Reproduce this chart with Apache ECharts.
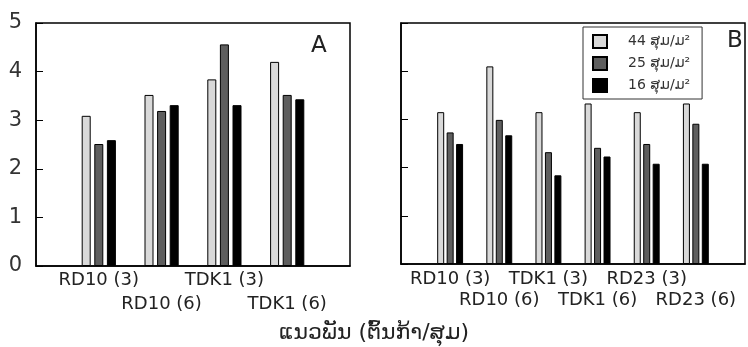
<!DOCTYPE html>
<html>
<head>
<meta charset="utf-8">
<script src="https://cdn.jsdelivr.net/npm/echarts@6/dist/echarts.min.js"></script>
<style>
  html, body { margin: 0; padding: 0; background: #fff; }
  #chart { width: 748px; height: 347px; }
</style>
</head>
<body>
<div id="chart"></div>
<script>
// panel A: 4 varieties
const varietiesA = ['RD10 (3)', 'RD10 (6)', 'TDK1 (3)', 'TDK1 (6)']
const a44 = [3.09, 3.52, 3.84, 4.20]
const a25 = [2.51, 3.19, 4.56, 3.52]
const a16 = [2.59, 3.31, 3.31, 3.43]

// panel B: 6 varieties
const varietiesB = ['RD10 (3)', 'RD10 (6)', 'TDK1 (3)', 'TDK1 (6)', 'RD23 (3)', 'RD23 (6)']
const b44 = [3.15, 4.10, 3.15, 3.33, 3.15, 3.33]
const b25 = [2.73, 2.99, 2.32, 2.41, 2.49, 2.91]
const b16 = [2.49, 2.67, 1.84, 2.23, 2.08, 2.08]

const seriesNames = ['44 ສຸມ/ມ²', '25 ສຸມ/ມ²', '16 ສຸມ/ມ²']
const yTicks = [0, 1, 2, 3, 4, 5]

const colors = ['#d9d9d9', '#5e5e5e', '#000000']
const font = 'DejaVu Sans'

// empty slot at each end so the groups sit on the inner ticks
const pad = arr => [null, ...arr, null]
const padCat = arr => ['', ...arr, '']

const chart = echarts.init(document.getElementById('chart'))

const makeX = (cats, gridIndex, lineHeight, margin) => ({
  type: 'category',
  gridIndex,
  data: padCat(cats),
  boundaryGap: false,
  axisLine: { lineStyle: { color: '#000', width: 1.5 } },
  axisTick: { show: false },
  axisLabel: {
    interval: 0,
    margin,
    fontFamily: font,
    fontSize: 18,
    color: '#222',
    lineHeight,
    formatter: (v, i) => (i % 2 === 0 ? '\n' + v : v)
  }
})

const makeY = (gridIndex, showLabels) => ({
  type: 'value',
  gridIndex,
  min: yTicks[0],
  max: yTicks[yTicks.length - 1],
  interval: 1,
  splitLine: { show: false },
  axisLine: { show: true, lineStyle: { color: '#000', width: 1.5 } },
  axisTick: { show: true, inside: true, length: 7, lineStyle: { color: '#000' } },
  axisLabel: {
    show: showLabels,
    margin: 14,
    fontFamily: font,
    fontSize: 21,
    color: '#333'
  }
})

const makeBars = (data, gridIndex, barWidth, barGap) =>
  data.map((d, k) => ({
    name: seriesNames[k],
    type: 'bar',
    xAxisIndex: gridIndex,
    yAxisIndex: gridIndex,
    data: pad(d),
    barWidth,
    barGap,
    itemStyle: { color: colors[k], borderColor: '#000', borderWidth: 1 }
  }))

const option = {
  animation: false,
  title: [
    { text: 'A', left: 306, top: 30, textStyle: { fontFamily: font, fontSize: 23, fontWeight: 'normal', color: '#222' } },
    { text: 'B', left: 722, top: 25, textStyle: { fontFamily: font, fontSize: 23, fontWeight: 'normal', color: '#222' } },
    { text: 'ແນວພັນ (ຕົ້ນກ້າ/ສຸມ)', left: 'center', top: 317, textStyle: { fontFamily: font, fontSize: 22, fontWeight: 'normal', color: '#222' } }
  ],
  legend: {
    data: seriesNames,
    orient: 'vertical',
    left: 583,
    top: 27,
    icon: 'rect',
    itemWidth: 14,
    itemHeight: 13,
    itemGap: 7,
    padding: [7, 12, 6, 9],
    borderColor: '#333',
    borderWidth: 1,
    backgroundColor: '#fff',
    selectedMode: false,
    textStyle: { fontFamily: font, fontSize: 14, color: '#333', padding: [0, 0, 0, 16] }
  },
  grid: [
    { left: 36, top: 23, width: 314, height: 243, show: true, borderColor: '#000', borderWidth: 1.5 },
    { left: 401, top: 23, width: 345, height: 241, show: true, borderColor: '#000', borderWidth: 1.5 }
  ],
  xAxis: [makeX(varietiesA, 0, 24, 2), makeX(varietiesB, 1, 21, 5)],
  yAxis: [makeY(0, true), makeY(1, false)],
  series: [
    ...makeBars([a44, a25, a16], 0, 9, '40%'),
    ...makeBars([b44, b25, b16], 1, 7, '35%')
  ]
}

chart.setOption(option)
</script>
</body>
</html>
